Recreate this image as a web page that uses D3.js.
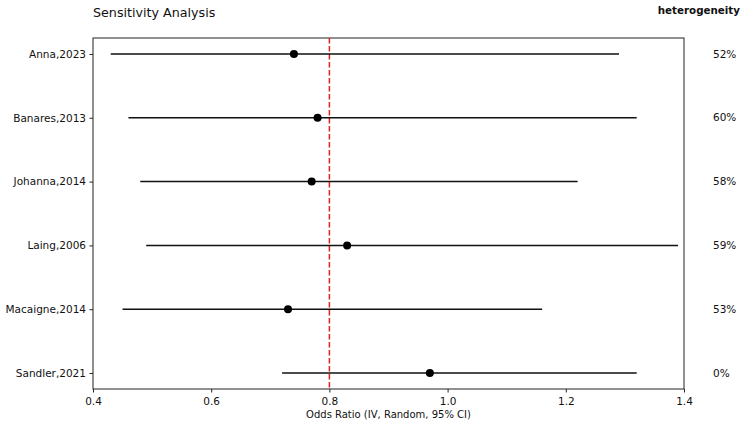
<!DOCTYPE html>
<html>
<head>
<meta charset="utf-8">
<script src="https://cdn.jsdelivr.net/npm/d3@7"></script>
<style>
  html, body { margin: 0; padding: 0; background: #fff; }
  svg { display: block; font-family: "DejaVu Sans", sans-serif; }
</style>
</head>
<body>
<svg id="chart" width="748" height="428"></svg>
<script>
const studies = ["Anna,2023", "Banares,2013", "Johanna,2014", "Laing,2006", "Macaigne,2014", "Sandler,2021"];
const oddsRatio = [0.74, 0.78, 0.77, 0.83, 0.73, 0.97];
const ciLower = [0.43, 0.46, 0.48, 0.49, 0.45, 0.72];
const ciUpper = [1.29, 1.32, 1.22, 1.39, 1.16, 1.32];
const heterogeneity = ["52%", "60%", "58%", "59%", "53%", "0%"];
const xTicks = [0.4, 0.6, 0.8, 1.0, 1.2, 1.4];
const refLine = 0.8;

const svg = d3.select("#chart");
const m = { left: 93, right: 684, top: 38, bottom: 389 };
const fs = 10.5;

const x = d3.scaleLinear().domain([0.4, 1.4]).range([m.left, m.right]);
const y = d3.scalePoint().domain(studies).range([m.top, m.bottom]).padding(0.25);

// frame
svg.append("rect")
  .attr("x", m.left).attr("y", m.top)
  .attr("width", m.right - m.left).attr("height", m.bottom - m.top)
  .attr("fill", "none").attr("stroke", "#222").attr("stroke-width", 1);

// x axis
const xAxis = svg.append("g")
  .attr("transform", `translate(0,${m.bottom})`)
  .call(d3.axisBottom(x).tickValues(xTicks).tickFormat(d3.format(".1f")).tickSize(3.5).tickSizeOuter(0));
xAxis.select(".domain").remove();
xAxis.selectAll("text").attr("font-size", fs).attr("fill", "#111").attr("y", 0).attr("dy", 0)
  .attr("transform", "translate(0,16)").attr("font-family", "DejaVu Sans, sans-serif");
xAxis.selectAll("line").attr("stroke", "#222");

// y axis
const yAxis = svg.append("g")
  .attr("transform", `translate(${m.left},0)`)
  .call(d3.axisLeft(y).tickSize(3.5).tickSizeOuter(0));
yAxis.select(".domain").remove();
yAxis.selectAll("text").attr("font-size", fs).attr("fill", "#111").attr("x", -7).attr("font-family", "DejaVu Sans, sans-serif");
yAxis.selectAll("line").attr("stroke", "#222");

// reference line
svg.append("line")
  .attr("x1", x(refLine)).attr("x2", x(refLine))
  .attr("y1", m.top).attr("y2", m.bottom)
  .attr("stroke", "#e02020").attr("stroke-width", 1.5)
  .attr("stroke-dasharray", "5.5,2.5");

// CI lines
svg.append("g").selectAll("line")
  .data(studies)
  .join("line")
  .attr("x1", (d, i) => x(ciLower[i]))
  .attr("x2", (d, i) => x(ciUpper[i]))
  .attr("y1", d => y(d)).attr("y2", d => y(d))
  .attr("stroke", "#111").attr("stroke-width", 1.5);

// points
svg.append("g").selectAll("circle")
  .data(studies)
  .join("circle")
  .attr("cx", (d, i) => x(oddsRatio[i]))
  .attr("cy", d => y(d))
  .attr("r", 4)
  .attr("fill", "#000");

// heterogeneity labels
svg.append("g").selectAll("text")
  .data(studies)
  .join("text")
  .attr("x", 713)
  .attr("y", d => y(d))
  .attr("dy", "0.35em")
  .attr("font-size", fs)
  .attr("fill", "#111")
  .text((d, i) => heterogeneity[i]);

svg.append("text")
  .attr("x", 740).attr("y", 14)
  .attr("text-anchor", "end")
  .attr("font-size", 10.3).attr("font-weight", "bold")
  .attr("fill", "#111")
  .text("heterogeneity");

// title
svg.append("text")
  .attr("x", 93).attr("y", 17)
  .attr("font-size", 12.7)
  .attr("fill", "#111")
  .text("Sensitivity Analysis");

// x label
svg.append("text")
  .attr("x", (m.left + m.right) / 2).attr("y", 418)
  .attr("text-anchor", "middle")
  .attr("font-size", 10)
  .attr("fill", "#111")
  .text("Odds Ratio (IV, Random, 95% CI)");
</script>
</body>
</html>
